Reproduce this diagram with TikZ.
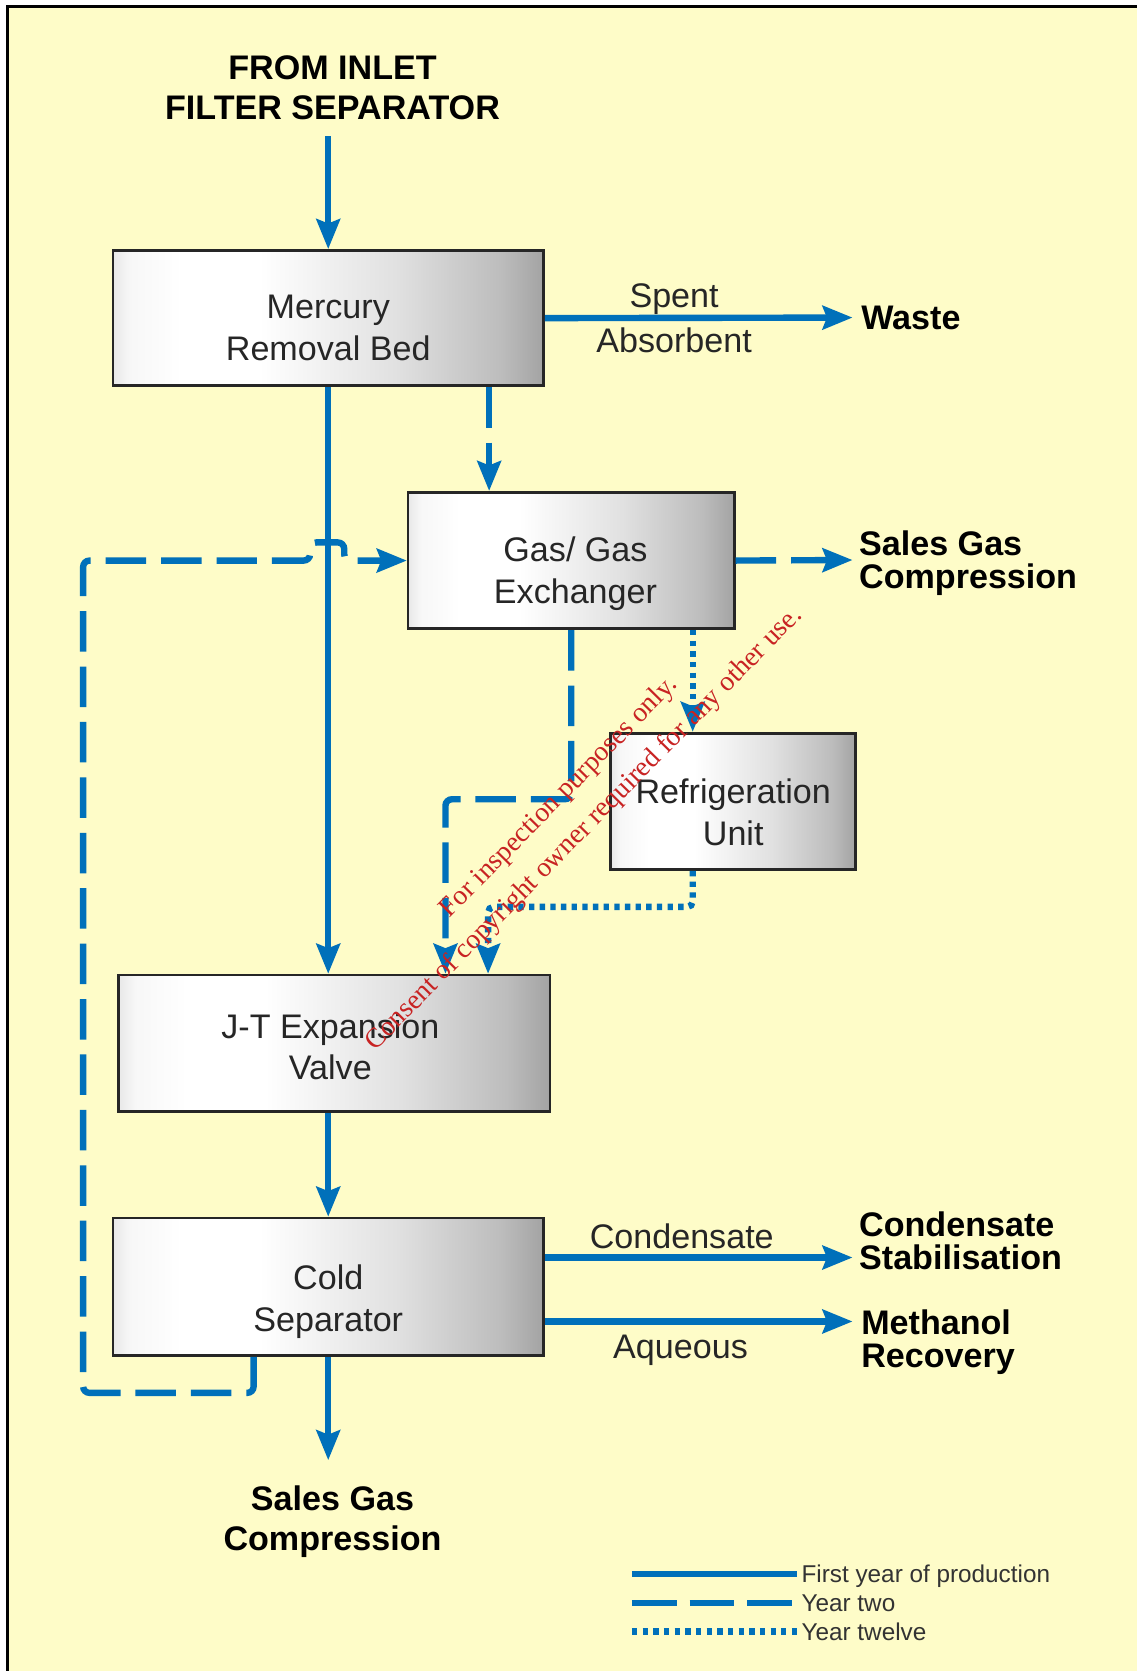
\documentclass[tikz,border=0pt]{standalone}
\usepackage{fontspec}
\setmainfont{Liberation Sans}
\newfontfamily\wmfont{Liberation Serif}
\usetikzlibrary{arrows.meta,calc}

\definecolor{flowblue}{RGB}{0,112,186}
\definecolor{paper}{RGB}{254,252,200}
\definecolor{stamp}{RGB}{200,35,35}

% light-to-grey metallic fill of the process boxes
\pgfdeclarehorizontalshading{boxgrad}{100bp}{%
  color(0bp)=(black!9); color(25bp)=(black!9); color(27bp)=(black!3);
  color(33bp)=(white); color(42bp)=(white); color(58bp)=(black!12);
  color(70bp)=(black!26); color(75bp)=(black!36); color(100bp)=(black!36)}

\begin{document}
\begin{tikzpicture}[x=1pt,y=-1pt,
  box/.style={draw=black!85, line width=2.5pt, shade, shading=boxgrad, inner sep=0pt},
  boxtxt/.style={font=\fontsize{32}{39}\selectfont, align=center, text depth=0pt, inner sep=0pt, text=black!85},
  tag/.style={font=\fontsize{32}{31}\bfseries\selectfont, align=left, text depth=0pt, inner ysep=0pt, inner xsep=6pt},
  head/.style={font=\fontsize{32}{38}\bfseries\selectfont, align=center, text depth=0pt, inner xsep=0pt},
  lbl/.style={font=\fontsize{32}{32}\selectfont, text depth=0pt, inner sep=0pt, text=black!85},
  legtxt/.style={font=\fontsize{22.8}{27}\selectfont, text depth=0pt, inner ysep=0pt, inner xsep=4pt, text=black!80},
  wm/.style={font=\wmfont\fontsize{26}{30}\selectfont, text=stamp, inner sep=0pt},
  pipe/.style={draw=flowblue, line width=6pt},
  flow/.style={pipe, -{Stealth[length=28pt,width=22pt,inset=4pt]}},
  yeartwo/.style={dash pattern=on 38pt off 14pt},
  yeartwelve/.style={dash pattern=on 5pt off 5pt}]

% paper and frame
\useasboundingbox (0,0) rectangle (1067,1568);
\fill[white] (0,0) rectangle (1067,1568);
\fill[paper] (7,6) rectangle (1067,1568);
\draw[black, line width=2.5pt] (7,1568) -- (7,6) -- (1067,6);

% process units
\node[box, minimum width=404pt, minimum height=127pt] (mrb) at (308,298.5) {};
\node[boxtxt] (mrbtxt) at ($(mrb)+(0,9)$) {Mercury\\Removal Bed};
\node[box, minimum width=306pt, minimum height=128pt] (gge) at (536,526) {};
\node[boxtxt] (ggetxt) at ($(gge)+(4,9)$) {Gas/ Gas\\Exchanger};
\node[box, minimum width=230pt, minimum height=128pt] (ref) at (688,752) {};
\node[boxtxt] (reftxt) at ($(ref)+(0,10)$) {Refrigeration\\Unit};
\node[box, minimum width=405pt, minimum height=128pt] (jt) at (313.5,979) {};
\node[boxtxt] (jttxt) at ($(jt)+(-3.5,3)$) {J-T Expansion\\Valve};
\node[box, minimum width=404pt, minimum height=129pt] (cs) at (308,1207.5) {};
\node[boxtxt] (cstxt) at ($(cs)+(0,10.5)$) {Cold\\Separator};

% sources and destinations
\node[head, inner ysep=15.5pt] (title) at (312,82) {FROM INLET\\FILTER SEPARATOR};
\node[tag, anchor=west, inner xsep=8pt] (waste) at (800,298) {Waste};
\node[tag, anchor=west] (sgc1) at (800,525.5) {Sales Gas\\Compression};
\node[tag, anchor=west] (cstab) at (800,1164.5) {Condensate\\Stabilisation};
\node[tag, anchor=west, inner xsep=8pt] (meth) at (800,1256.5) {Methanol\\Recovery};
\node[head, inner ysep=23.5pt] (sgc2) at (312,1424.5) {Sales Gas\\Compression};

% helper points for the routed lines
\coordinate (x459) at (459,0);
\coordinate (x536) at (536,0);
\coordinate (x650) at (650,0);
\coordinate (x238) at (238,0);
\coordinate (gj) at (418,750);
\coordinate (rj) at (458,851);
\coordinate (rc) at (78,1307);
\coordinate (hopL) at (291,526);
\coordinate (hopR) at (323,526);
\coordinate (c1) at (800,1180);
\coordinate (c2) at (800,1240);

% year two lines
\draw[flow, yeartwo] (mrb.south -| x459) -- (gge.north -| x459);
\draw[flow, yeartwo] (gge.east) -- (sgc1.west);
\draw[flow, yeartwo, rounded corners=6pt] (gge.south -| x536) |- (gj) -- (gj |- jt.north);
\draw[flow, yeartwo, rounded corners=6pt] (cs.south -| x238) |- (rc) -- (rc |- gge.west)
  -- (hopL) -- ++(0,-17) -| (hopR) -- (gge.west);

% year twelve lines
\draw[flow, yeartwelve] (gge.south -| x650) -- (ref.north -| x650);
\draw[flow, yeartwelve, rounded corners=5pt] (ref.south -| x650) |- (rj) -- (rj |- jt.north);

% first year lines
\draw[flow] (title.south -| mrb.north) -- (mrb.north);
\draw[flow] (mrb.east) -- (waste.west)
  node[lbl, pos=0.42, yshift=21pt] (spent) {Spent}
  node[lbl, pos=0.42, yshift=-21pt] (absorb) {Absorbent};
\draw[flow] (mrb.south) -- (mrb.south |- jt.north);
\draw[flow] (jt.south -| cs.north) -- (cs.north);
\draw[flow] (cs.east |- c1) -- (c1)
  node[lbl, pos=0.445, yshift=20pt] (cond) {Condensate};
\draw[flow] (cs.east |- c2) -- (c2)
  node[lbl, pos=0.441, yshift=-24pt] (aq) {Aqueous};
\draw[flow] (cs.south) -- (cs.south |- sgc2.north);

% legend
\coordinate (lg1) at (593,1477);
\coordinate (lg2) at (593,1504);
\coordinate (lg3) at (593,1531);
\node[legtxt, anchor=west] (leg1) at (748,1477) {First year of production};
\node[legtxt, anchor=west] (leg2) at (748,1504) {Year two};
\node[legtxt, anchor=west] (leg3) at (748,1531) {Year twelve};
\draw[pipe] (lg1) -- (leg1.west);
\draw[pipe, dash pattern=on 42pt off 12pt] (lg2) -- (leg2.west);
\draw[pipe, yeartwelve] (lg3) -- (leg3.west);

% stamp across the drawing
\node[wm, anchor=base west, rotate=45.5] (stamp1) at (422,862) {For inspection purposes only.};
\node[wm, anchor=base west, rotate=45.5] (stamp2) at (352,987) {Consent of copyright owner required for any other use.};
\end{tikzpicture}
\end{document}
